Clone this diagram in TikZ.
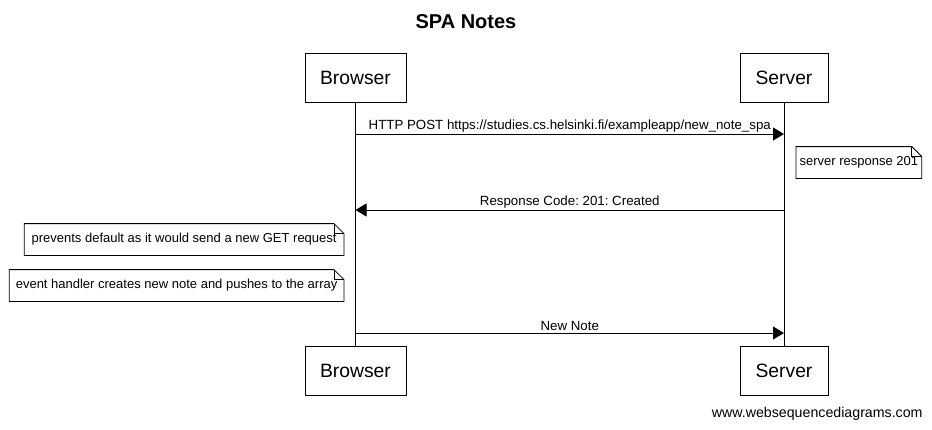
\documentclass[tikz,border=0pt]{standalone}
\usepackage{fontspec}
\setmainfont{Liberation Sans}
\usetikzlibrary{arrows.meta,positioning}
\frenchspacing

\tikzset{
  actor/.style={draw, minimum width=101pt, minimum height=49pt, inner sep=0pt,
    font=\fontsize{19.3}{23}\selectfont},
  lifeline/.style={draw, line width=0.8pt},
  msg/.style={line width=0.8pt, -{Triangle[length=11pt,width=13pt]}},
  msglabel/.style={font=\fontsize{13.3}{16}\selectfont, inner sep=0pt},
  note/.style={minimum height=31pt, inner sep=0pt, font=\fontsize{13}{16}\selectfont}
}

% dog-eared outline round a note node
\newcommand{\dogear}[1]{%
  \draw (#1.north west) -- ([xshift=-10pt]#1.north east) -- ([yshift=-10pt]#1.north east)
    -- (#1.south east) -- (#1.south west) -- cycle;
  \draw ([xshift=-10pt]#1.north east) -- ([xshift=-10pt,yshift=-10pt]#1.north east)
    -- ([yshift=-10pt]#1.north east);
}

\begin{document}
\begin{tikzpicture}[x=1pt, y=-1pt, line width=0.8pt]
  \useasboundingbox (0,0) rectangle (932,429);

  \node[font=\bfseries\fontsize{20}{24}\selectfont] (title) at (466,22) {SPA Notes};

  % participants
  \node[actor] (browser) at (355.5,77.5) {Browser};
  \node[actor, minimum width=88pt] (server) at (784,77.5) {Server};
  \node[actor] (browser2) at (355.5,370.5) {Browser};
  \node[actor, minimum width=88pt] (server2) at (784,370.5) {Server};

  \draw[lifeline] (browser) -- (browser2);
  \draw[lifeline] (server) -- (server2);

  % points on the lifelines
  \coordinate (b1) at (browser.south |- 0,134);
  \coordinate (s1) at (server.south |- 0,134);
  \coordinate (b2) at (browser.south |- 0,210);
  \coordinate (s2) at (server.south |- 0,210);
  \coordinate (b3) at (browser.south |- 0,333);
  \coordinate (s3) at (server.south |- 0,333);

  \draw[msg] (b1) -- node[msglabel, above=1.5pt] {HTTP POST https://studies.cs.helsinki.fi/exampleapp/new\_note\_spa} (s1);

  \node[note, anchor=west, minimum width=125pt] (resp) at (796,162.5) {server response 201};
  \dogear{resp}

  \draw[msg] (s2) -- node[msglabel, above=1.5pt] {Response Code: 201: Created} (b2);

  \node[note, anchor=east, minimum width=319pt] (prevent) at (344,239.5) {prevents default as it would send a new GET request};
  \dogear{prevent}
  \node[note, anchor=east, minimum width=334pt] (handler) at (344,285.5) {event handler creates new note and pushes to the array};
  \dogear{handler}

  \draw[msg] (b3) -- node[msglabel, above=1.5pt] {New Note} (s3);

  \node[font=\fontsize{14.2}{17}\selectfont, anchor=east, inner sep=0pt] (footer) at (923,414) {www.websequencediagrams.com};
\end{tikzpicture}
\end{document}
